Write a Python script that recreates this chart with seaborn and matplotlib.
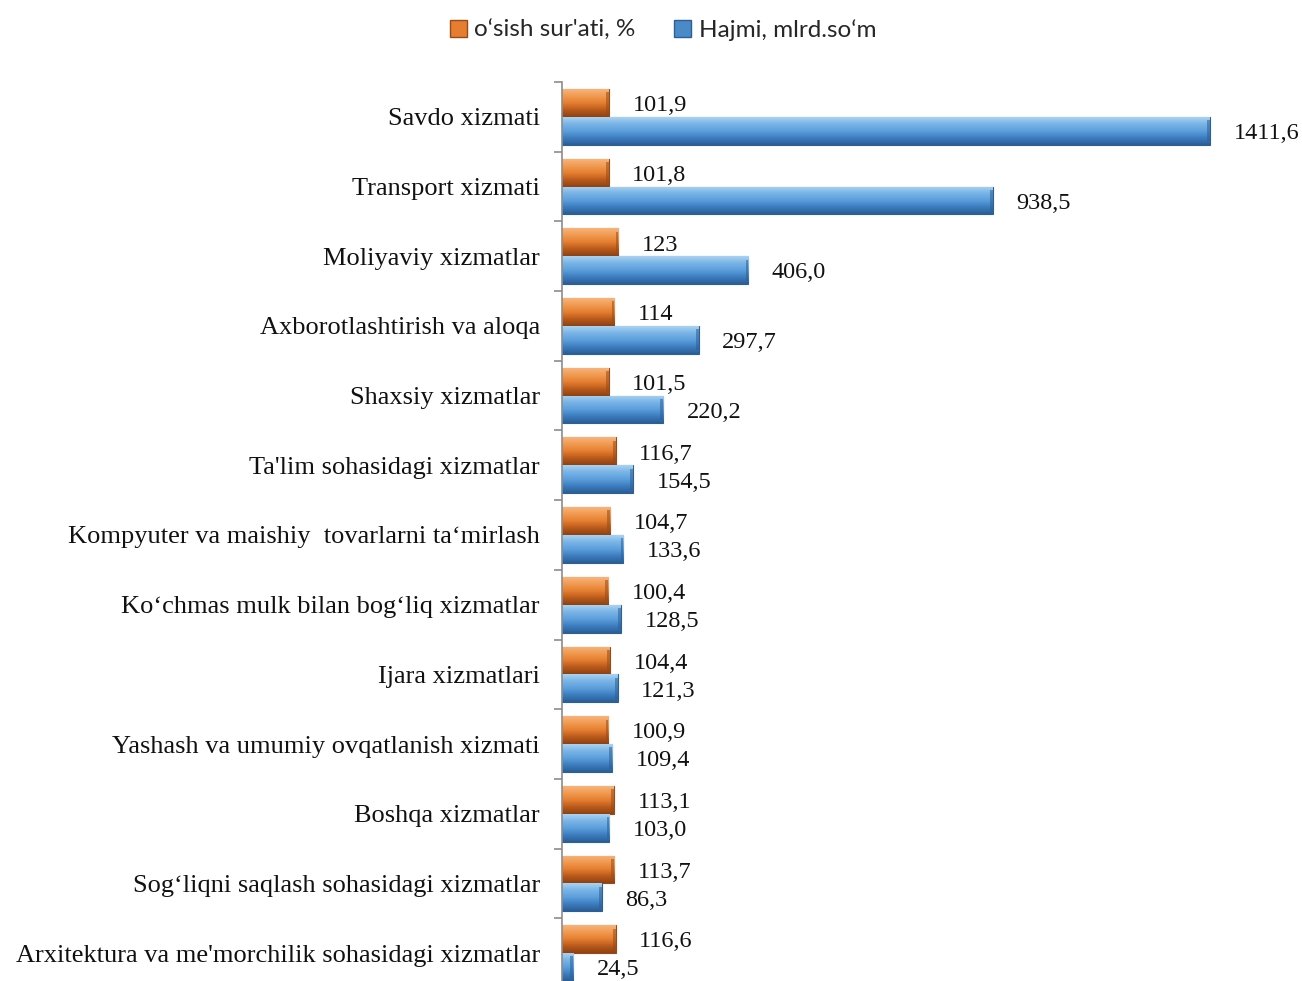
import numpy as np
import pandas as pd
import seaborn as sns
import matplotlib.pyplot as plt
from matplotlib.colors import LinearSegmentedColormap
from matplotlib.patches import Patch

categories = [
    "Savdo xizmati",
    "Transport xizmati",
    "Moliyaviy xizmatlar",
    "Axborotlashtirish va aloqa",
    "Shaxsiy xizmatlar",
    "Ta'lim sohasidagi xizmatlar",
    "Kompyuter va maishiy  tovarlarni ta\u2018mirlash",
    "Ko\u2018chmas mulk bilan bog\u2018liq xizmatlar",
    "Ijara xizmatlari",
    "Yashash va umumiy ovqatlanish xizmati",
    "Boshqa xizmatlar",
    "Sog\u2018liqni saqlash sohasidagi xizmatlar",
    "Arxitektura va me'morchilik sohasidagi xizmatlar",
]
growth = [101.9, 101.8, 123, 114, 101.5, 116.7, 104.7, 100.4, 104.4, 100.9, 113.1, 113.7, 116.6]
volume = [1411.6, 938.5, 406.0, 297.7, 220.2, 154.5, 133.6, 128.5, 121.3, 109.4, 103.0, 86.3, 24.5]
growth_labels = ["101,9", "101,8", "123", "114", "101,5", "116,7", "104,7",
                 "100,4", "104,4", "100,9", "113,1", "113,7", "116,6"]
volume_labels = [f"{v:.1f}".replace(".", ",") for v in volume]
series_names = ["o\u2018sish sur'ati, %", "Hajmi, mlrd.so\u2018m"]

df = pd.DataFrame({
    "cat": categories * 2,
    "value": growth + volume,
    "series": [series_names[0]] * len(categories) + [series_names[1]] * len(categories),
    "label": growth_labels + volume_labels,
})

sns.set_style("white")
plt.rcParams["font.family"] = ["Liberation Serif", "DejaVu Serif"]

fig = plt.figure(figsize=(13.02, 9.81), dpi=100)
ax = fig.add_axes([562 / 1302, -7 / 981, 670 / 1302, 906 / 981])

palette = {series_names[0]: "#ED8A3F", series_names[1]: "#5B9BD5"}
sns.barplot(data=df, y="cat", x="value", hue="series", order=categories,
            hue_order=series_names, palette=palette, orient="h", width=0.8,
            ax=ax, legend=False, saturation=1)

# bevel-like gradient on each bar
grad = {
    series_names[0]: LinearSegmentedColormap.from_list(
        "o", ["#F8B37A", "#F09A50", "#E57E30", "#B95A1C", "#8E4212"]),
    series_names[1]: LinearSegmentedColormap.from_list(
        "b", ["#A9D2F2", "#78B4E6", "#5C9FDC", "#3C7DC0", "#2A5E96"]),
}
edges = {series_names[0]: "#9A4A15", series_names[1]: "#2C5F94"}
bars = [p for p in ax.patches if p.get_width() > 0]
grad_img = np.linspace(0, 1, 64).reshape(-1, 1)
for i, p in enumerate(bars):
    s = series_names[0] if i < len(categories) else series_names[1]
    x0, y0 = p.get_x(), p.get_y()
    w, h = p.get_width(), p.get_height()
    im = ax.imshow(grad_img, cmap=grad[s], aspect="auto",
                   extent=(x0, x0 + w, y0 + h, y0), zorder=2, interpolation="bilinear")
    im.set_clip_path(p)
    p.set_edgecolor(edges[s])
    p.set_linewidth(0.8)
    # darker end cap
    cap = min(w, 6)
    ax.fill_between([x0 + w - cap, x0 + w], y0 + h * 0.12, y0 + h * 0.88,
                    color=edges[s], alpha=0.55, lw=0, zorder=3)

for i, p in enumerate(bars):
    lab = df["label"].iloc[i]
    ax.annotate(lab, (p.get_x() + p.get_width(), p.get_y() + p.get_height() / 2),
                xytext=(17, -2), textcoords="offset points", va="center", ha="left",
                fontsize=17.5, color="#111111")

ax.set_xlim(0, 1460)
ax.set_ylim(len(categories) - 0.5, -0.5)
ax.set_xlabel("")
ax.set_ylabel("")
ax.set_xticks([])
ax.tick_params(axis="y", which="major", length=0, pad=16, labelsize=19, colors="#111111")
ax.set_yticks(np.arange(len(categories) + 1) - 0.5, minor=True)
ax.tick_params(axis="y", which="minor", left=True, length=6, color="#8C8C8C", width=1.2)
for side in ["top", "right", "bottom"]:
    ax.spines[side].set_visible(False)
ax.spines["left"].set_color("#8C8C8C")
ax.spines["left"].set_linewidth(1.2)

handles = [Patch(facecolor="#E57E30", edgecolor="#9A4A15"),
           Patch(facecolor="#4A8AC9", edgecolor="#2C5F94")]
fig.legend(handles, series_names, loc="center", bbox_to_anchor=(663 / 1302, 1 - 30 / 981),
           ncol=2, frameon=False, handlelength=0.7, handleheight=0.7, handletextpad=0.3,
           columnspacing=1.6, prop={"family": "Lato", "size": 17.5})

fig.savefig("out.png", dpi=100)
